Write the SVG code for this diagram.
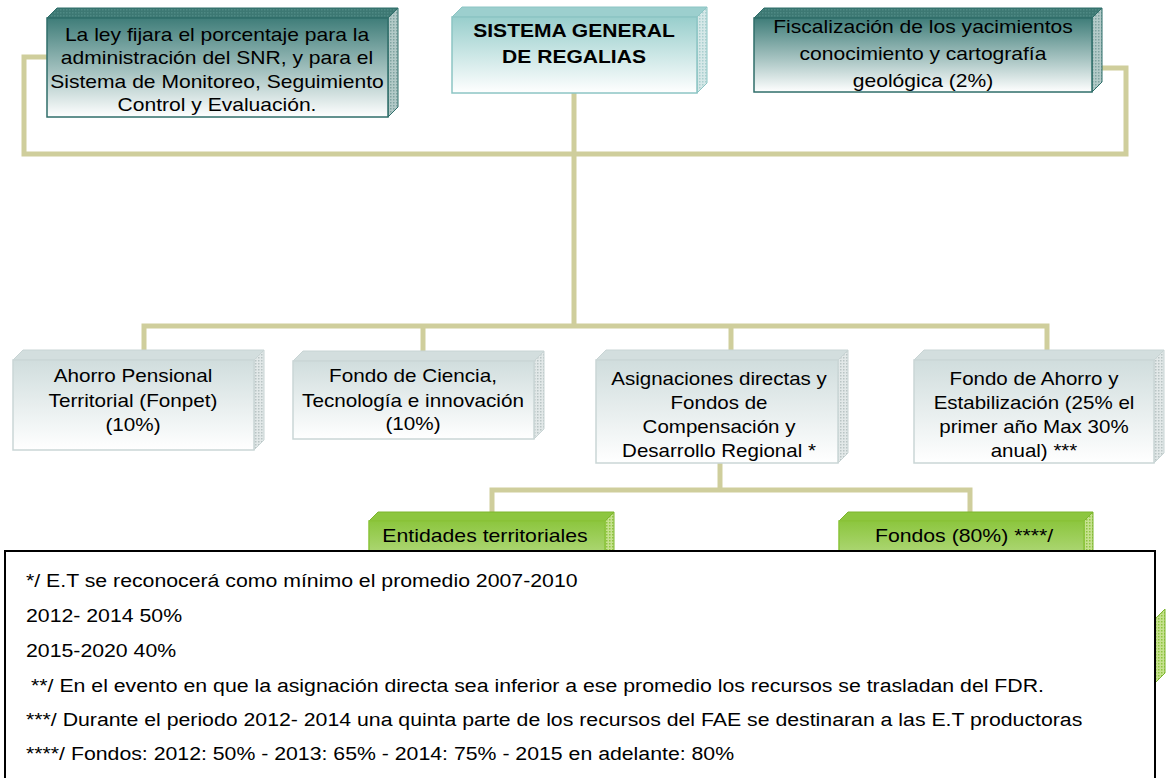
<svg xmlns="http://www.w3.org/2000/svg" width="1170" height="778" viewBox="0 0 1170 778">
<style>
.t{font-family:"Liberation Sans",Arial,sans-serif;font-size:18px;fill:#000;text-anchor:middle}
.tb{font-family:"Liberation Sans",Arial,sans-serif;font-size:18px;font-weight:bold;fill:#000;text-anchor:middle}
.fn{font-family:"Liberation Sans",Arial,sans-serif;font-size:19px;fill:#000}
.con{fill:none;stroke:#CFCE9C;stroke-width:5;stroke-linejoin:miter}
.dk-top{fill:url(#patDark);stroke:#2F6E6A;stroke-width:1}
.dk-side{fill:url(#patDarkSide);stroke:#2F6E6A;stroke-width:1}
.dk-front{fill:url(#gDark);stroke:#2F6E6A;stroke-width:1.5}
.lt-top{fill:#9CCFCE;stroke:#8CC5C4;stroke-width:1}
.lt-side{fill:url(#patLightSide);stroke:#8CC5C4;stroke-width:1}
.lt-front{fill:url(#gLight);stroke:#8CC5C4;stroke-width:1.5}
.gr-top{fill:#D3DEDE;stroke:#C8D4D4;stroke-width:1}
.gr-side{fill:url(#patGray);stroke:#C8D4D4;stroke-width:1}
.gr-front{fill:url(#gGray);stroke:#CAD6D6;stroke-width:1.5}
.gn-top{fill:#8DC63F;stroke:#7DB52E;stroke-width:1}
.gn-side{fill:url(#patGreen);stroke:#7DB52E;stroke-width:1}
.gn-front{fill:url(#gGreen);stroke:#8AC33A;stroke-width:1.5}
</style>
<defs>
<linearGradient id="gDark" x1="0" y1="0" x2="0" y2="1">
<stop offset="0" stop-color="#3F7D79"/>
<stop offset="0.55" stop-color="#A6C3C1"/>
<stop offset="1" stop-color="#FFFFFF"/>
</linearGradient>
<linearGradient id="gLight" x1="0" y1="0" x2="0" y2="1">
<stop offset="0" stop-color="#98CECC"/>
<stop offset="1" stop-color="#FFFFFF"/>
</linearGradient>
<linearGradient id="gGray" x1="0" y1="0" x2="0" y2="1">
<stop offset="0" stop-color="#D0DDDD"/>
<stop offset="1" stop-color="#FFFFFF"/>
</linearGradient>
<linearGradient id="gGreen" x1="0" y1="0" x2="0" y2="1">
<stop offset="0" stop-color="#8CC63E"/>
<stop offset="1" stop-color="#F0F8E4"/>
</linearGradient>
<pattern id="patDark" width="3" height="3" patternUnits="userSpaceOnUse">
<rect width="3" height="3" fill="#3D7873"/><rect width="1.5" height="1.5" fill="#4E8984"/>
</pattern>
<pattern id="patDarkSide" width="3" height="3" patternUnits="userSpaceOnUse">
<rect width="3" height="3" fill="#B3CAC8"/><rect width="1.5" height="1.5" fill="#7FA3A0"/>
</pattern>
<pattern id="patLightSide" width="3" height="3" patternUnits="userSpaceOnUse">
<rect width="3" height="3" fill="#D6E8E8"/><rect width="1.5" height="1.5" fill="#A9CFCE"/>
</pattern>
<pattern id="patGray" width="3" height="3" patternUnits="userSpaceOnUse">
<rect width="3" height="3" fill="#E2E8E8"/><rect width="1.5" height="1.5" fill="#B9C4C4"/>
</pattern>
<pattern id="patGreen" width="3" height="3" patternUnits="userSpaceOnUse">
<rect width="3" height="3" fill="#C6E28F"/><rect width="1.5" height="1.5" fill="#8EC43F"/>
</pattern>
</defs>
<rect width="1170" height="778" fill="#FFFFFF"/>
<g id="connectors">
<path class="con" d="M47,57 H24 V154 H1126 V68 H1100"/>
<path class="con" d="M574,93 V327"/>
<path class="con" d="M144,351 V326 H1047 V351"/>
<path class="con" d="M423,326 V352"/>
<path class="con" d="M731,326 V351"/>
<path class="con" d="M720,463 V490"/>
<path class="con" d="M492,513 V490 H970 V513"/>
</g>
<g id="node-ley">
<polygon class="dk-top" points="47,18 57,8 398,8 388,18"/>
<polygon class="dk-side" points="388,18 398,8 398,107 388,117"/>
<rect class="dk-front" x="47" y="18" width="341" height="99"/>
<text class="t" transform="translate(217 0) scale(1.17 1)"><tspan x="0" y="41">La ley fijara el porcentaje para la</tspan><tspan x="0" y="64">administración del SNR, y para el</tspan><tspan x="0" y="88">Sistema de Monitoreo, Seguimiento</tspan><tspan x="0" y="111">Control y Evaluación.</tspan></text>
</g>
<g id="node-sgr">
<polygon class="lt-top" points="452,17 462,7 707,7 697,17"/>
<polygon class="lt-side" points="697,17 707,7 707,83 697,93"/>
<rect class="lt-front" x="452" y="17" width="245" height="76"/>
<text class="tb" transform="translate(574 0) scale(1.17 1)"><tspan x="0" y="37">SISTEMA GENERAL</tspan><tspan x="0" y="63">DE REGALIAS</tspan></text>
</g>
<g id="node-fisc">
<polygon class="dk-top" points="754,18 764,8 1102,8 1092,18"/>
<polygon class="dk-side" points="1092,18 1102,8 1102,82 1092,92"/>
<rect class="dk-front" x="754" y="18" width="338" height="74"/>
<text class="t" transform="translate(923 0) scale(1.17 1)"><tspan x="0" y="33">Fiscalización de los yacimientos</tspan><tspan x="0" y="60">conocimiento y cartografía</tspan><tspan x="0" y="87">geológica (2%)</tspan></text>
</g>
<g id="node-fonpet">
<polygon class="gr-top" points="13,360 23,350 264,350 254,360"/>
<polygon class="gr-side" points="254,360 264,350 264,440 254,450"/>
<rect class="gr-front" x="13" y="360" width="241" height="90"/>
<text class="t" transform="translate(133 0) scale(1.15 1)"><tspan x="0" y="382">Ahorro Pensional</tspan><tspan x="0" y="407">Territorial (Fonpet)</tspan><tspan x="0" y="431">(10%)</tspan></text>
</g>
<g id="node-ciencia">
<polygon class="gr-top" points="293,361 303,351 544,351 534,361"/>
<polygon class="gr-side" points="534,361 544,351 544,429 534,439"/>
<rect class="gr-front" x="293" y="361" width="241" height="78"/>
<text class="t" transform="translate(413 0) scale(1.15 1)"><tspan x="0" y="382">Fondo de Ciencia,</tspan><tspan x="0" y="407">Tecnología e innovación</tspan><tspan x="0" y="430">(10%)</tspan></text>
</g>
<g id="node-asignaciones">
<polygon class="gr-top" points="596,360 606,350 848,350 838,360"/>
<polygon class="gr-side" points="838,360 848,350 848,453 838,463"/>
<rect class="gr-front" x="596" y="360" width="242" height="103"/>
<text class="t" transform="translate(719 0) scale(1.14 1)"><tspan x="0" y="385">Asignaciones directas y</tspan><tspan x="0" y="409">Fondos de</tspan><tspan x="0" y="433">Compensación y</tspan><tspan x="0" y="457">Desarrollo Regional *</tspan></text>
</g>
<g id="node-fae">
<polygon class="gr-top" points="914,360 924,350 1164,350 1154,360"/>
<polygon class="gr-side" points="1154,360 1164,350 1164,453 1154,463"/>
<rect class="gr-front" x="914" y="360" width="240" height="103"/>
<text class="t" transform="translate(1034 0) scale(1.14 1)"><tspan x="0" y="385">Fondo de Ahorro y</tspan><tspan x="0" y="409">Estabilización (25% el</tspan><tspan x="0" y="433">primer año Max 30%</tspan><tspan x="0" y="457">anual) ***</tspan></text>
</g>
<g id="node-entidades">
<polygon class="gn-top" points="369,521 378,512 614,512 605,521"/>
<polygon class="gn-side" points="605,521 614,512 614,611 605,620"/>
<rect class="gn-front" x="369" y="521" width="236" height="99"/>
<text class="t" transform="translate(485 0) scale(1.18 1)"><tspan x="0" y="542">Entidades territoriales</tspan></text>
</g>
<g id="node-fondos">
<polygon class="gn-top" points="839,521 848,512 1093,512 1084,521"/>
<polygon class="gn-side" points="1084,521 1093,512 1093,611 1084,620"/>
<rect class="gn-front" x="839" y="521" width="245" height="99"/>
<text class="t" transform="translate(964 0) scale(1.18 1)"><tspan x="0" y="542">Fondos (80%) ****/</tspan></text>
</g>
<g id="hidden-box-edge">
<polygon class="gn-side" points="1155,619 1165,609 1165,673 1155,683"/>
</g>
<g id="notes">
<rect x="5" y="551" width="1150" height="240" fill="#FFFFFF" stroke="#000000" stroke-width="2"/>
<text class="fn" transform="translate(26 0) scale(1.12 1)"><tspan x="0" y="587">*/ E.T se reconocerá como mínimo el promedio 2007-2010</tspan><tspan x="0" y="622">2012- 2014 50%</tspan><tspan x="0" y="657">2015-2020 40%</tspan><tspan x="4.5" y="692">**/ En el evento en que la asignación directa sea inferior a ese promedio los recursos se trasladan del FDR.</tspan><tspan x="0" y="726">***/ Durante el periodo 2012- 2014 una quinta parte de los recursos del FAE se destinaran a las E.T productoras</tspan><tspan x="0" y="760">****/ Fondos: 2012: 50% - 2013: 65% - 2014: 75% - 2015 en adelante: 80%</tspan></text>
</g>
</svg>
